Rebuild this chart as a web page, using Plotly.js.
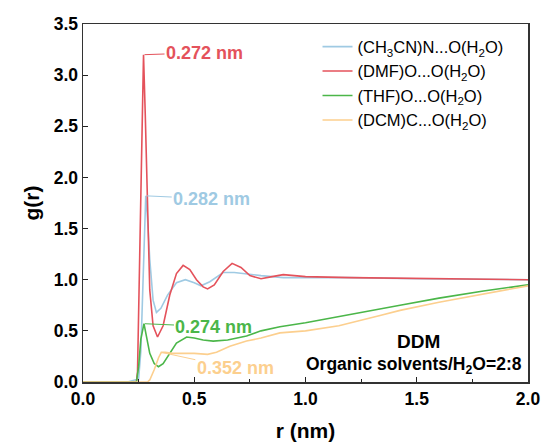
<!DOCTYPE html>
<html>
<head>
<meta charset="utf-8">
<script src="https://cdn.plot.ly/plotly-3.0.1.min.js"></script>
<style>html,body{margin:0;padding:0;background:#fff;}#chart{width:542px;height:444px;}</style>
</head>
<body>
<div id="chart"></div>
<script>
// CH3CN N...O(H2O)
const rBlue = [0, 0.1, 0.2, 0.25, 0.26, 0.27, 0.277, 0.282, 0.29, 0.30, 0.315, 0.33, 0.35, 0.38, 0.42, 0.46, 0.50, 0.53, 0.57, 0.63, 0.68, 0.75, 0.80, 0.90, 1.0, 1.2, 1.5, 1.8, 2.0];
const gBlue = [0, 0, 0, 0.03, 0.3, 1.0, 1.6, 1.82, 1.6, 1.2, 0.8, 0.68, 0.72, 0.85, 0.97, 1.0, 0.97, 0.94, 0.98, 1.07, 1.07, 1.05, 1.04, 1.02, 1.02, 1.02, 1.01, 1.0, 1.0];
// DMF O...O(H2O)
const rRed = [0, 0.1, 0.2, 0.24, 0.245, 0.255, 0.265, 0.272, 0.28, 0.29, 0.30, 0.315, 0.335, 0.36, 0.39, 0.42, 0.45, 0.48, 0.51, 0.54, 0.56, 0.59, 0.63, 0.67, 0.71, 0.75, 0.80, 0.85, 0.90, 0.95, 1.0, 1.2, 1.5, 1.8, 2.0];
const gRed = [0, 0, 0, 0, 0.1, 1.2, 2.6, 3.2, 2.6, 1.6, 0.9, 0.55, 0.44, 0.55, 0.85, 1.06, 1.14, 1.10, 1.0, 0.93, 0.91, 0.95, 1.08, 1.16, 1.12, 1.04, 1.01, 1.03, 1.05, 1.04, 1.03, 1.02, 1.01, 1.0, 1.0];
// THF O...O(H2O)
const rGreen = [0, 0.1, 0.2, 0.24, 0.25, 0.26, 0.274, 0.285, 0.30, 0.32, 0.339, 0.36, 0.39, 0.42, 0.466, 0.50, 0.54, 0.585, 0.65, 0.735, 0.80, 0.885, 1.0, 1.155, 1.335, 1.425, 1.6, 1.8, 2.0];
const gGreen = [0, 0, 0, 0, 0.15, 0.42, 0.57, 0.45, 0.28, 0.18, 0.15, 0.18, 0.28, 0.38, 0.44, 0.43, 0.41, 0.40, 0.41, 0.45, 0.50, 0.54, 0.58, 0.64, 0.71, 0.75, 0.82, 0.89, 0.95];
// DCM C...O(H2O)
const rOrange = [0, 0.1, 0.2, 0.29, 0.30, 0.32, 0.34, 0.352, 0.37, 0.40, 0.45, 0.50, 0.56, 0.60, 0.66, 0.735, 0.80, 0.885, 1.0, 1.15, 1.335, 1.425, 1.6, 1.8, 2.0];
const gOrange = [0, 0, 0, 0, 0.02, 0.12, 0.24, 0.29, 0.29, 0.28, 0.28, 0.28, 0.27, 0.29, 0.35, 0.40, 0.43, 0.48, 0.50, 0.55, 0.65, 0.70, 0.78, 0.86, 0.94];

const seriesNames = ['(CH<sub>3</sub>CN)N...O(H<sub>2</sub>O)', '(DMF)O...O(H<sub>2</sub>O)', '(THF)O...O(H<sub>2</sub>O)', '(DCM)C...O(H<sub>2</sub>O)'];
const colors = ['#9fcae3', '#e4525b', '#4bb649', '#fccf8e'];
const peakR = [0.282, 0.272, 0.274, 0.352];
const peakG = [1.82, 3.2, 0.57, 0.29];
const peakLabels = ['0.282 nm', '0.272 nm', '0.274 nm', '0.352 nm'];
const xTicks = [0, 0.5, 1.0, 1.5, 2.0];
const yTicks = [0, 0.5, 1.0, 1.5, 2.0, 2.5, 3.0, 3.5];

const R = [rBlue, rRed, rGreen, rOrange];
const G = [gBlue, gRed, gGreen, gOrange];
const traces = R.map((r, i) => ({
  x: r, y: G[i], type: 'scatter', mode: 'lines', name: seriesNames[i],
  line: {color: colors[i], width: 1.6}
}));

const offsets = [[66, 3], [61, -2], [70, 3], [74, 16]];
const bold = {family: 'Liberation Sans, Arial, sans-serif', weight: 'bold'};
const annotations = peakR.map((r, i) => ({
  x: r, y: peakG[i], xref: 'x', yref: 'y', text: peakLabels[i],
  showarrow: true, arrowhead: 0, arrowwidth: 1, arrowcolor: colors[i],
  ax: offsets[i][0], ay: offsets[i][1], standoff: 1,
  font: Object.assign({size: 18, color: colors[i]}, bold)
}));
annotations.push({xref: 'paper', yref: 'paper', x: 0.753, y: 0.1145, xanchor: 'center', yanchor: 'middle',
  text: 'DDM', showarrow: false,
  font: Object.assign({size: 19, color: '#000'}, bold)});
annotations.push({xref: 'paper', yref: 'paper', x: 0.744, y: 0.0447, xanchor: 'center', yanchor: 'middle',
  text: 'Organic solvents/H<sub>2</sub>O=2:8', showarrow: false,
  font: Object.assign({size: 17.5, color: '#000'}, bold)});

const layout = {
  width: 542, height: 444,
  margin: {l: 83, r: 14, t: 24, b: 62},
  paper_bgcolor: '#fff', plot_bgcolor: '#fff',
  showlegend: true,
  legend: {x: 0.527, y: 0.985, xanchor: 'left', yanchor: 'top', bgcolor: 'rgba(0,0,0,0)',
    font: {family: 'Liberation Sans, Arial, sans-serif', size: 16.5, color: '#000'}, tracegroupgap: 0},
  xaxis: {
    range: [0, 2], tickvals: xTicks, ticktext: xTicks.map(v => v.toFixed(1)),
    ticks: 'inside', ticklen: 5, tickwidth: 1.2, tickcolor: '#222',
    minor: {dtick: 0.25, tick0: 0, ticks: 'inside', ticklen: 3, tickwidth: 1, tickcolor: '#222'},
    showline: true, linecolor: '#333', linewidth: 1.5, mirror: true,
    showgrid: false, zeroline: false,
    tickfont: Object.assign({size: 17.5, color: '#000'}, bold),
    title: {text: 'r (nm)', font: Object.assign({size: 21, color: '#000'}, bold), standoff: 16}
  },
  yaxis: {
    range: [0, 3.5], tickvals: yTicks, ticktext: yTicks.map(v => v.toFixed(1)),
    ticks: 'inside', ticklen: 5, tickwidth: 1.2, tickcolor: '#222',
    showline: true, linecolor: '#333', linewidth: 1.5, mirror: true,
    showgrid: false, zeroline: false,
    tickfont: Object.assign({size: 17.5, color: '#000'}, bold),
    title: {text: 'g(r)', font: Object.assign({size: 21, color: '#000'}, bold), standoff: 8}
  },
  annotations: annotations
};

Plotly.newPlot('chart', traces, layout, {displayModeBar: false, staticPlot: true});
</script>
</body>
</html>
